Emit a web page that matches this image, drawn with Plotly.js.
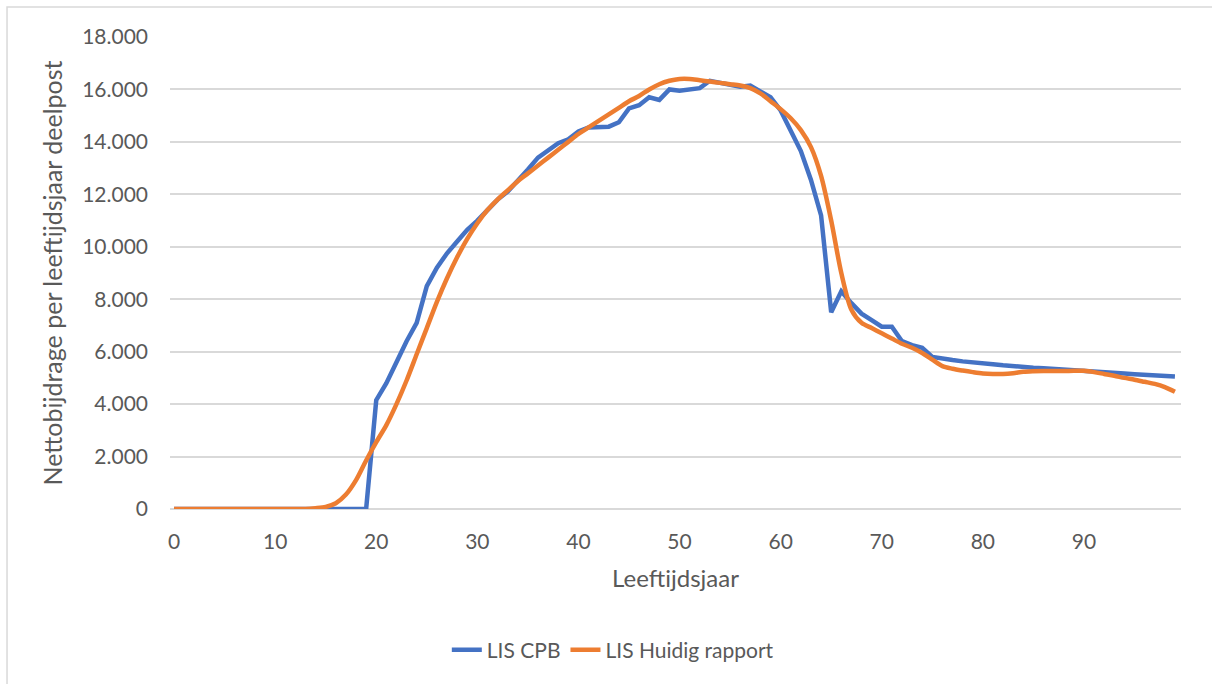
<!DOCTYPE html>
<html>
<head>
<meta charset="utf-8">
<script src="https://cdn.plot.ly/plotly-3.0.1.min.js"></script>
<style>
  html, body { margin: 0; padding: 0; background: #ffffff; }
  #chart { width: 1212px; height: 684px; }
</style>
</head>
<body>
<div id="chart"></div>
<script>
// Leeftijdsjaar (categories)
const ages = [0,1,2,3,4,5,6,7,8,9,10,11,12,13,14,15,16,17,18,19,
  20,21,22,23,24,25,26,27,28,29,30,31,32,33,34,35,36,37,38,39,
  40,41,42,43,44,45,46,47,48,49,50,51,52,53,54,55,56,57,58,59,
  60,61,62,63,64,65,66,67,68,69,70,71,72,73,74,75,76,77,78,79,
  80,81,82,83,84,85,86,87,88,89,90,91,92,93,94,95,96,97,98,99];

// LIS CPB
const lisCPB = [0,0,0,0,0,0,0,0,0,0,0,0,0,0,0,0,0,0,0,0,
  4150,4800,5600,6400,7100,8500,9200,9750,10200,10650,
  11000,11400,11800,12100,12500,12950,13400,13650,13950,14100,
  14400,14550,14580,14580,14750,15280,15400,15700,15600,16000,
  15950,15980,16050,16330,16250,16150,16100,16150,15900,15700,
  15200,14450,13650,12550,11200,7500,8300,7850,7450,7200,
  6950,6950,6400,6250,6150,5800,5720,5680,5630,5580,
  5550,5520,5480,5440,5400,5390,5370,5350,5330,5310,
  5290,5260,5230,5200,5170,5140,5110,5090,5070,5050];

// LIS Huidig rapport
const lisHuidig = [0,0,0,0,0,0,0,0,0,0,0,0,0,0,30,80,220,550,1100,1850,
  2550,3200,4000,4900,5900,6900,7900,8800,9600,10300,
  10900,11400,11800,12150,12500,12800,13100,13400,13700,14000,
  14300,14550,14800,15050,15300,15550,15750,16000,16200,16330,
  16400,16400,16350,16300,16250,16200,16150,16050,15850,15550,
  15250,14900,14450,13800,12700,11000,9000,7600,7100,6900,
  6700,6500,6300,6150,5950,5700,5450,5350,5280,5220,
  5170,5150,5150,5180,5230,5250,5260,5260,5260,5270,
  5270,5220,5150,5080,5000,4930,4850,4770,4650,4470];

const xTicks = [0,10,20,30,40,50,60,70,80,90];
const yTicks = [0,2000,4000,6000,8000,10000,12000,14000,16000,18000];
const yTickLabels = ['0','2.000','4.000','6.000','8.000','10.000','12.000','14.000','16.000','18.000'];

const FONT = 'Lato, "Open Sans", "Liberation Sans", sans-serif';
const GREY = '#595959';

const traces = [
  {
    x: ages, y: lisCPB, type: 'scatter', mode: 'lines', name: 'LIS CPB', legendgroup: 'cpb',
    line: { color: '#4472C4', width: 4.5, shape: 'linear' }
  },
  {
    x: ages, y: lisHuidig, type: 'scatter', mode: 'lines', name: 'LIS Huidig rapport', legendgroup: 'huidig',
    line: { color: '#ED7D31', width: 4.5, shape: 'spline', smoothing: 0.8 }
  }
];

const layout = {
  width: 1212, height: 684,
  margin: { l: 170, r: 31, t: 37, b: 175 },
  paper_bgcolor: '#ffffff', plot_bgcolor: '#ffffff',
  font: { family: FONT, color: GREY, size: 21 },
  showlegend: true,
  legend: {
    orientation: 'h', x: 0.438, xanchor: 'center', y: -0.299, yanchor: 'middle',
    font: { family: FONT, size: 21, color: GREY }, bgcolor: 'rgba(0,0,0,0)',
    itemwidth: 30, tracegroupgap: 22
  },
  xaxis: {
    range: [-0.4, 99.6], tickmode: 'array', tickvals: xTicks, ticktext: xTicks.map(String),
    showgrid: false, zeroline: false, showline: false, ticks: '',
    tickfont: { family: FONT, size: 21, color: GREY },
    ticklabelstandoff: 18,
    title: { text: 'Leeftijdsjaar', font: { family: FONT, size: 24, color: GREY }, standoff: 18 }
  },
  yaxis: {
    range: [0, 18000], tickmode: 'array', tickvals: yTicks, ticktext: yTickLabels,
    showgrid: true, gridcolor: '#d9d9d9', gridwidth: 1.5,
    zeroline: true, zerolinecolor: '#d9d9d9', zerolinewidth: 1.5,
    showline: false, ticks: '',
    tickfont: { family: FONT, size: 21, color: GREY },
    ticklabelstandoff: 21,
    title: { text: 'Nettobijdrage per leeftijdsjaar deelpost', font: { family: FONT, size: 25, color: GREY }, standoff: 12 }
  },
  shapes: [
    { type: 'rect', xref: 'paper', yref: 'paper',
      x0: -0.1612, x1: 1.3, y0: -0.45, y1: 1.0636,
      line: { color: '#d9d9d9', width: 1.5 }, fillcolor: 'rgba(0,0,0,0)', layer: 'below' }
  ]
};

Plotly.newPlot('chart', traces, layout, { displayModeBar: false, responsive: false });
</script>
</body>
</html>
